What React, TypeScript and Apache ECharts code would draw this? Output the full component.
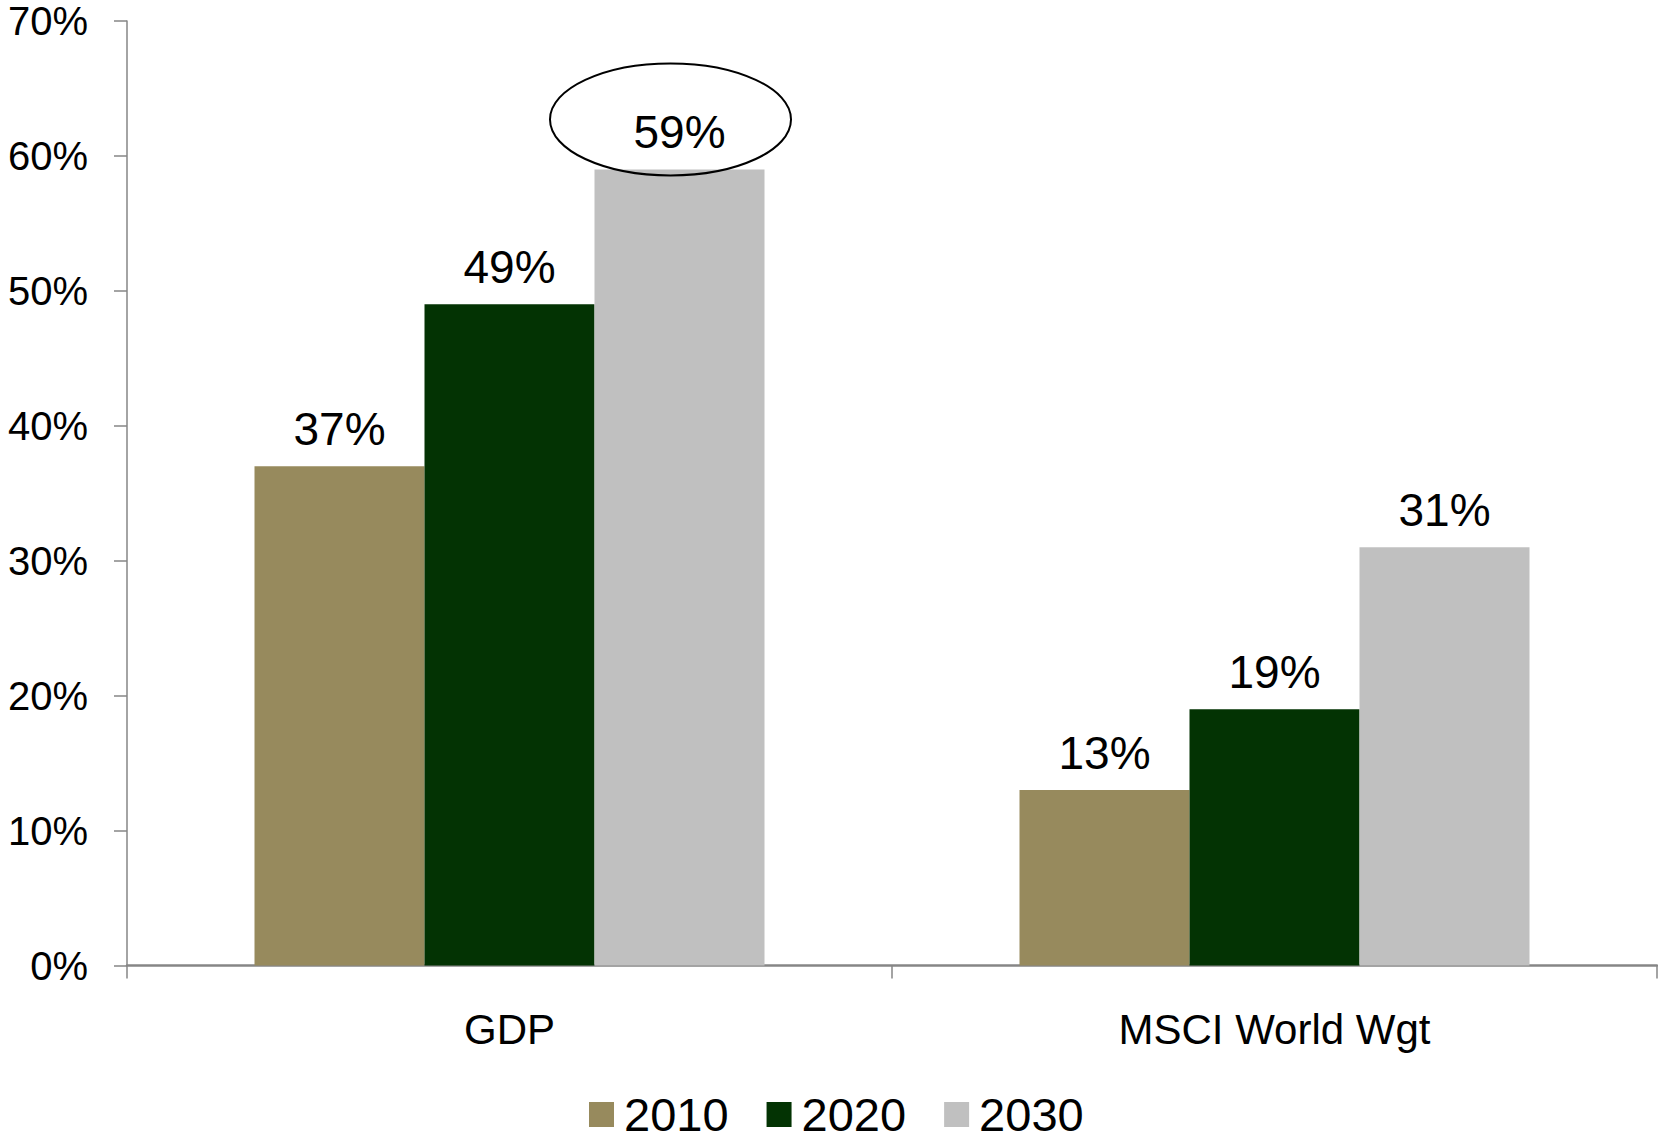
import React, { useEffect, useRef } from "react";
import * as echarts from "echarts";

const categories = ["GDP", "MSCI World Wgt"];
const seriesNames = ["2010", "2020", "2030"];
const values2010 = [37, 13];
const values2020 = [49, 19];
const values2030 = [59, 31];
const yMin = 0;
const yMax = 70;
const yStep = 10;
const colors = ["#978a5d", "#033303", "#c0c0c0"];
const highlighted = { category: "GDP", seriesIndex: 2, value: 59 };

const FONT = "'Liberation Sans', Arial, sans-serif";

export default function App() {
  const ref = useRef<HTMLDivElement>(null);

  useEffect(() => {
    if (!ref.current) return;
    const chart = echarts.init(ref.current, null, { renderer: "svg" });
    const allValues = [values2010, values2020, values2030];
    const barWidth = 170;
    const option: any = {
      animation: false,
      backgroundColor: "#ffffff",
      textStyle: { fontFamily: FONT },
      grid: { left: 127, right: 1, top: 21, bottom: 170.5, containLabel: false },
      legend: {
        data: seriesNames,
        left: 584,
        top: 1086,
        itemWidth: 25,
        itemHeight: 25,
        itemGap: 38,
        icon: "rect",
        textStyle: { fontSize: 47, color: "#000", fontFamily: FONT, padding: [0, 0, 0, 5] },
      },
      xAxis: {
        type: "category",
        data: categories,
        axisLine: { show: true, lineStyle: { color: "#868686", width: 2.5 } },
        axisTick: { show: true, length: 13, lineStyle: { color: "#868686", width: 1.5 } },
        axisLabel: { fontSize: 42, color: "#000", margin: 43, fontFamily: FONT },
        splitLine: { show: false },
      },
      yAxis: {
        type: "value",
        min: yMin,
        max: yMax,
        interval: yStep,
        axisLine: { show: true, lineStyle: { color: "#868686", width: 1.5 } },
        axisTick: { show: true, length: 13, lineStyle: { color: "#868686", width: 1.5 } },
        axisLabel: { fontSize: 40, color: "#000", margin: 39, formatter: "{value}%", fontFamily: FONT },
        splitLine: { show: false },
      },
      series: seriesNames.map((name, i) => ({
        name,
        type: "bar",
        data: allValues[i],
        barWidth,
        barGap: "0%",
        itemStyle: { color: colors[i] },
        label: {
          show: true,
          position: "top",
          distance: 14,
          formatter: "{c}%",
          fontSize: 46,
          color: "#000",
          fontFamily: FONT,
        },
      })),
    };
    chart.setOption(option);

    const p = chart.convertToPixel({ gridIndex: 0 }, [highlighted.category, highlighted.value]) as number[];
    if (p) {
      const barCenter = p[0] + (highlighted.seriesIndex - 1) * barWidth;
      chart.setOption({
        graphic: [
          {
            type: "ellipse",
            shape: { cx: barCenter - 9, cy: p[1] - 50, rx: 120.5, ry: 56 },
            style: { fill: "none", stroke: "#000", lineWidth: 2 },
            z: 100,
          },
        ],
      });
    }

    return () => chart.dispose();
  }, []);

  return (
    <div
      ref={ref}
      style={{ position: "fixed", left: 0, top: 0, width: 1658, height: 1136 }}
    />
  );
}
